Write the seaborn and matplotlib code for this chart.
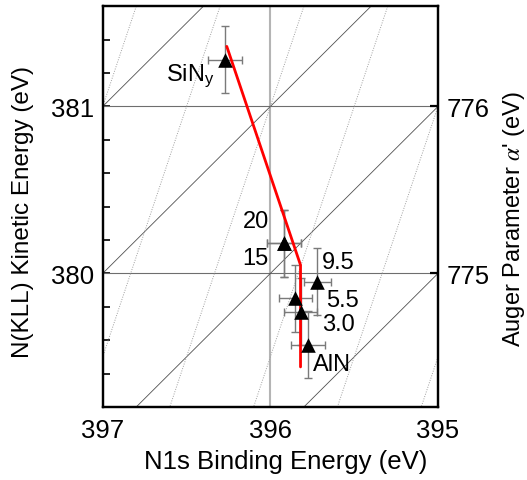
import numpy as np
import pandas as pd
import matplotlib
matplotlib.use("Agg")
import matplotlib.pyplot as plt
import seaborn as sns

# Measured points: N1s binding energy, N(KLL) kinetic energy and their uncertainties
labels = ["SiNy", "20", "15", "9.5", "5.5", "3.0", "AlN"]
binding = [396.27, 395.92, 395.92, 395.72, 395.85, 395.82, 395.776]
kinetic = [381.28, 380.18, 380.18, 379.95, 379.85, 379.77, 379.574]
binding_err = [0.10, 0.10, 0.10, 0.08, 0.10, 0.10, 0.10]
kinetic_err = [0.20, 0.20, 0.20, 0.20, 0.20, 0.20, 0.20]

# Guide line through the series
trend_be = [396.26, 395.82, 395.82]
trend_ke = [381.36, 380.05, 379.44]

# Reference grids: constant Auger parameter (BE + KE) and constant KE + 3*BE
auger_levels = [775, 776, 777, 778]
slope3_levels = [1564.5, 1566.0, 1567.5, 1569.0, 1570.5, 1572.0]

# Label text and placement
label_text = [r"SiN$_\mathregular{y}$", "20", "15", "9.5", "5.5", "3.0", "AlN"]
label_be = [396.335, 396.087, 396.09, 395.593, 395.570, 395.593, 395.63]
label_ke = [381.19, 380.313, 380.095, 380.07, 379.843, 379.699, 379.459]
label_ha = ["right", "center", "center", "center", "center", "center", "center"]

sns.set_style("white")
plt.rcParams["font.family"] = ["Liberation Sans", "DejaVu Sans"]
plt.rcParams["mathtext.fontset"] = "stix"
plt.rcParams["text.color"] = "black"
plt.rcParams["axes.labelcolor"] = "black"
plt.rcParams["xtick.color"] = "black"
plt.rcParams["ytick.color"] = "black"

df = pd.DataFrame({"label": labels, "be": binding, "ke": kinetic,
                   "be_err": binding_err, "ke_err": kinetic_err})
trend = pd.DataFrame({"be": trend_be, "ke": trend_ke})

fig = plt.figure(figsize=(5.27, 4.81), dpi=100)
ax = fig.add_axes([0.1949, 0.1518, 0.6362, 0.8330])

xlim = (397.0, 395.0)
ylim = (379.2, 381.6)
ax.set_xlim(*xlim)
ax.set_ylim(*ylim)

# Grid lines
ax.axvline(396.0, color="#b4b4b4", lw=1.5, zorder=1)
for yv in (380.0, 381.0):
    ax.axhline(yv, color="#6e6e6e", lw=0.8, zorder=1)
for a in auger_levels:
    ax.axline((396.0, a - 396.0), slope=-1, color="#505050", lw=0.6, zorder=1)
for c in slope3_levels:
    ax.axline((396.0, c - 3 * 396.0), slope=-3, color="#a0a0a0", lw=0.7,
              ls=(0, (1, 1.5)), zorder=1)

# Error bars
ax.errorbar(df["be"], df["ke"], xerr=df["be_err"], yerr=df["ke_err"],
            fmt="none", ecolor="#7a7a7a", elinewidth=1.0, capsize=3,
            capthick=1.0, zorder=2)

# Trend line
sns.lineplot(data=trend, x="be", y="ke", sort=False, color="#ff0000",
             lw=2.0, ax=ax, zorder=3, estimator=None)

# Data markers
sns.scatterplot(data=df, x="be", y="ke", marker="^", s=110, color="black",
                edgecolor="black", linewidth=0, ax=ax, zorder=4)

for t, bx, ky, ha in zip(label_text, label_be, label_ke, label_ha):
    ax.text(bx, ky, t, fontsize=17, ha=ha, va="center", color="black",
            zorder=5)

ax.set_xticks([397, 396, 395])
ax.set_xticks(np.arange(395.2, 397.0, 0.2), minor=True)
ax.set_yticks([380, 381])
ax.set_yticks(np.arange(379.4, 381.6, 0.2), minor=True)
ax.tick_params(axis="both", which="both", direction="in", length=5,
               width=1.2, labelsize=18.5, top=False, right=False,
               colors="black")
ax.tick_params(axis="x", which="both", pad=8)
ax.tick_params(axis="y", which="both", pad=6)
ax.set_xlabel("N1s Binding Energy (eV)", fontsize=18.5, color="black")
ax.xaxis.set_label_coords(0.547, -0.105)
ax.set_ylabel("N(KLL) Kinetic Energy (eV)", fontsize=17.5, color="black")
ax.yaxis.set_label_coords(-0.205, 0.489)
for sp in ax.spines.values():
    sp.set_linewidth(1.6)
    sp.set_color("black")

# Right axis: Auger parameter evaluated at the right edge (BE = 395 eV)
ax2 = ax.twinx()
ax2.set_ylim(ylim[0] + 395.0, ylim[1] + 395.0)
ax2.set_yticks([775, 776])
ax2.tick_params(axis="y", direction="in", length=6, width=1.6,
                labelsize=18.5, pad=6, colors="black")
ax2.set_ylabel(r"Auger Parameter $\alpha$' (eV)", fontsize=17, color="black")
ax2.yaxis.set_label_coords(1.188, 0.471)
for sp in ax2.spines.values():
    sp.set_linewidth(1.6)
    sp.set_color("black")

fig.savefig("out.png", dpi=100)
